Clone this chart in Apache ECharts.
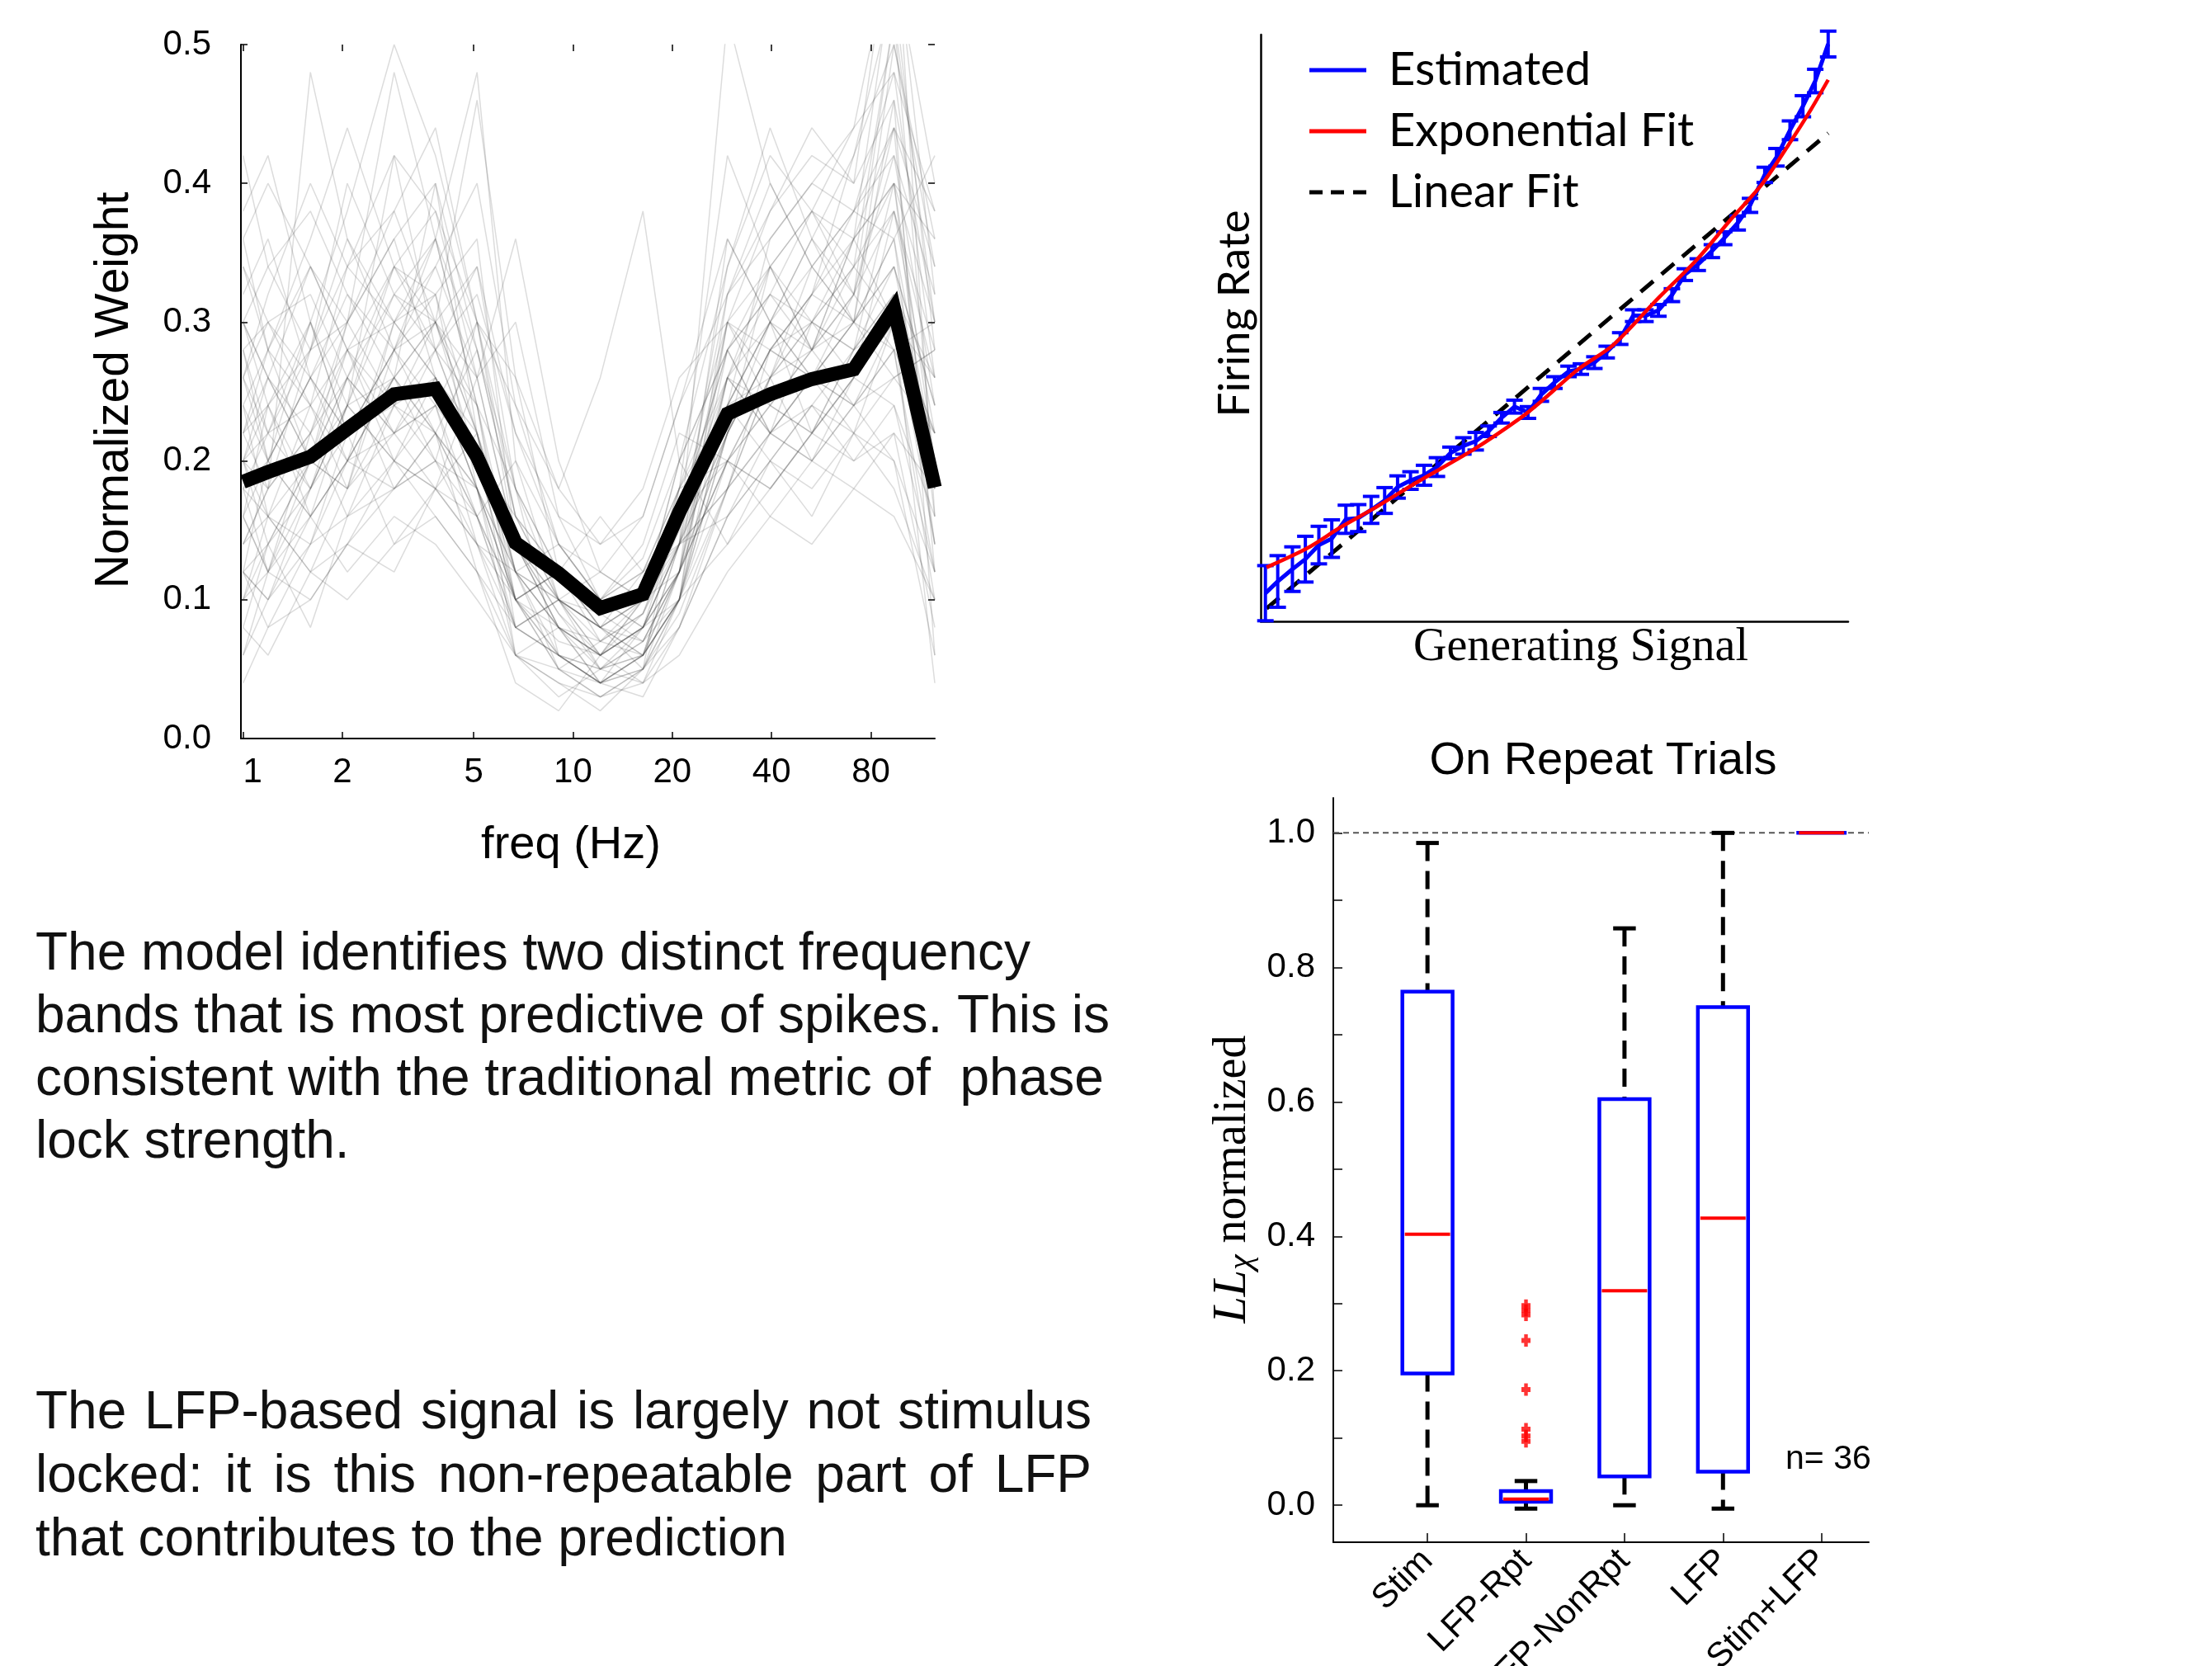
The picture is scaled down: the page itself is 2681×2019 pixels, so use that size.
<!DOCTYPE html>
<html>
<head>
<meta charset="utf-8">
<script src="https://cdn.jsdelivr.net/npm/echarts@6.0.0/dist/echarts.min.js"></script>
<style>
  html, body { margin: 0; padding: 0; background: #fff; }
  #chart { width: 2681px; height: 2019px; }
</style>
</head>
<body>
<div id="chart"></div>
<script>
// ---- panel A: frequency weights ----
var freqHz = [1.0, 1.19, 1.6, 2.07, 2.87, 3.83, 5.12, 6.7, 9.05, 12.1, 16.3, 21.0, 29.4, 39.6, 53, 71, 94, 125]
var meanWeight = [0.185, 0.192, 0.203, 0.223, 0.248, 0.252, 0.203, 0.141, 0.119, 0.094, 0.104, 0.163, 0.234, 0.248, 0.259, 0.266, 0.310, 0.181]
var unitWeights = [
  [0.28, 0.22, 0.30, 0.38, 0.50, 0.42, 0.30, 0.14, 0.10, 0.06, 0.08, 0.12, 0.30, 0.34, 0.28, 0.32, 0.52, 0.30],
  [0.12, 0.10, 0.18, 0.24, 0.20, 0.26, 0.18, 0.08, 0.06, 0.04, 0.06, 0.14, 0.22, 0.28, 0.30, 0.36, 0.44, 0.12],
  [0.20, 0.26, 0.34, 0.28, 0.24, 0.30, 0.46, 0.26, 0.12, 0.08, 0.10, 0.20, 0.28, 0.22, 0.26, 0.24, 0.30, 0.20],
  [0.38, 0.42, 0.30, 0.22, 0.26, 0.20, 0.16, 0.10, 0.12, 0.09, 0.07, 0.10, 0.18, 0.26, 0.30, 0.28, 0.40, 0.36],
  [0.16, 0.12, 0.22, 0.30, 0.36, 0.40, 0.22, 0.12, 0.05, 0.03, 0.05, 0.18, 0.42, 0.34, 0.38, 0.32, 0.28, 0.22],
  [0.24, 0.20, 0.16, 0.20, 0.30, 0.34, 0.26, 0.36, 0.20, 0.12, 0.10, 0.16, 0.24, 0.20, 0.16, 0.22, 0.18, 0.10],
  [0.10, 0.14, 0.08, 0.16, 0.24, 0.22, 0.12, 0.04, 0.02, 0.06, 0.04, 0.10, 0.30, 0.38, 0.44, 0.40, 0.60, 0.16],
  [0.30, 0.26, 0.22, 0.26, 0.18, 0.22, 0.28, 0.16, 0.12, 0.10, 0.12, 0.14, 0.16, 0.20, 0.24, 0.22, 0.26, 0.28],
  [0.20, 0.18, 0.48, 0.36, 0.28, 0.24, 0.16, 0.08, 0.10, 0.05, 0.08, 0.12, 0.36, 0.30, 0.26, 0.30, 0.34, 0.24],
  [0.14, 0.16, 0.20, 0.18, 0.30, 0.26, 0.20, 0.14, 0.08, 0.06, 0.09, 0.16, 0.20, 0.26, 0.34, 0.30, 0.46, 0.06],
  [0.26, 0.30, 0.24, 0.28, 0.34, 0.32, 0.18, 0.06, 0.04, 0.02, 0.05, 0.12, 0.26, 0.30, 0.22, 0.28, 0.32, 0.26],
  [0.08, 0.06, 0.12, 0.14, 0.18, 0.20, 0.30, 0.24, 0.18, 0.26, 0.38, 0.20, 0.14, 0.18, 0.22, 0.26, 0.24, 0.12],
  [0.22, 0.24, 0.28, 0.40, 0.32, 0.36, 0.48, 0.20, 0.10, 0.08, 0.06, 0.14, 0.52, 0.40, 0.34, 0.38, 0.36, 0.42],
  [0.18, 0.20, 0.16, 0.12, 0.16, 0.14, 0.10, 0.06, 0.08, 0.04, 0.06, 0.10, 0.22, 0.34, 0.28, 0.36, 0.40, 0.20],
  [0.32, 0.36, 0.26, 0.22, 0.28, 0.30, 0.24, 0.12, 0.14, 0.10, 0.08, 0.10, 0.20, 0.24, 0.28, 0.34, 0.30, 0.14],
  [0.12, 0.08, 0.14, 0.20, 0.26, 0.30, 0.34, 0.18, 0.06, 0.04, 0.03, 0.08, 0.16, 0.22, 0.26, 0.32, 0.44, 0.38],
  [0.28, 0.30, 0.32, 0.26, 0.22, 0.18, 0.14, 0.08, 0.10, 0.12, 0.10, 0.18, 0.30, 0.26, 0.20, 0.18, 0.22, 0.08],
  [0.06, 0.10, 0.14, 0.22, 0.28, 0.36, 0.24, 0.10, 0.08, 0.06, 0.10, 0.20, 0.28, 0.32, 0.38, 0.34, 0.52, 0.18],
  [0.20, 0.14, 0.18, 0.24, 0.42, 0.28, 0.20, 0.16, 0.12, 0.08, 0.12, 0.16, 0.24, 0.30, 0.26, 0.24, 0.28, 0.30],
  [0.16, 0.20, 0.26, 0.30, 0.24, 0.26, 0.18, 0.10, 0.05, 0.07, 0.06, 0.12, 0.26, 0.22, 0.30, 0.28, 0.34, 0.24],
  [0.36, 0.28, 0.20, 0.18, 0.22, 0.24, 0.14, 0.06, 0.03, 0.05, 0.04, 0.08, 0.18, 0.28, 0.32, 0.42, 0.50, 0.34],
  [0.14, 0.18, 0.22, 0.16, 0.20, 0.18, 0.26, 0.30, 0.16, 0.10, 0.14, 0.22, 0.20, 0.16, 0.14, 0.18, 0.16, 0.10],
  [0.24, 0.16, 0.12, 0.18, 0.28, 0.32, 0.36, 0.14, 0.08, 0.04, 0.08, 0.14, 0.34, 0.44, 0.36, 0.30, 0.26, 0.28],
  [0.10, 0.12, 0.20, 0.28, 0.20, 0.16, 0.12, 0.08, 0.10, 0.08, 0.05, 0.10, 0.14, 0.20, 0.18, 0.22, 0.30, 0.04],
  [0.42, 0.34, 0.28, 0.30, 0.36, 0.26, 0.22, 0.12, 0.08, 0.06, 0.10, 0.16, 0.28, 0.22, 0.24, 0.20, 0.22, 0.18],
  [0.18, 0.22, 0.24, 0.34, 0.38, 0.30, 0.20, 0.10, 0.12, 0.16, 0.12, 0.18, 0.24, 0.26, 0.30, 0.26, 0.38, 0.22],
  [0.26, 0.20, 0.30, 0.22, 0.14, 0.18, 0.16, 0.20, 0.14, 0.12, 0.16, 0.24, 0.32, 0.36, 0.40, 0.44, 0.48, 0.26],
  [0.04, 0.08, 0.10, 0.14, 0.12, 0.18, 0.22, 0.06, 0.04, 0.03, 0.04, 0.06, 0.12, 0.16, 0.20, 0.24, 0.20, 0.06],
  [0.20, 0.24, 0.16, 0.24, 0.26, 0.40, 0.28, 0.18, 0.10, 0.06, 0.08, 0.14, 0.18, 0.26, 0.28, 0.30, 0.36, 0.20],
  [0.30, 0.34, 0.38, 0.32, 0.28, 0.22, 0.18, 0.12, 0.06, 0.04, 0.06, 0.10, 0.24, 0.30, 0.34, 0.38, 0.42, 0.32],
  [0.12, 0.10, 0.16, 0.20, 0.22, 0.28, 0.32, 0.22, 0.16, 0.14, 0.18, 0.26, 0.30, 0.24, 0.22, 0.26, 0.32, 0.14],
  [0.22, 0.28, 0.34, 0.30, 0.48, 0.36, 0.24, 0.08, 0.06, 0.05, 0.07, 0.12, 0.20, 0.18, 0.22, 0.28, 0.30, 0.22],
  [0.16, 0.12, 0.10, 0.14, 0.20, 0.24, 0.20, 0.12, 0.10, 0.08, 0.06, 0.10, 0.26, 0.34, 0.38, 0.36, 0.56, 0.40],
  [0.34, 0.30, 0.26, 0.20, 0.18, 0.20, 0.14, 0.10, 0.12, 0.07, 0.09, 0.14, 0.22, 0.28, 0.26, 0.22, 0.20, 0.12],
  [0.08, 0.14, 0.20, 0.26, 0.32, 0.30, 0.22, 0.14, 0.08, 0.05, 0.07, 0.12, 0.28, 0.32, 0.30, 0.34, 0.40, 0.16],
  [0.26, 0.32, 0.40, 0.34, 0.30, 0.36, 0.28, 0.16, 0.10, 0.07, 0.09, 0.15, 0.32, 0.38, 0.42, 0.40, 0.46, 0.30],
  [0.18, 0.16, 0.12, 0.10, 0.14, 0.16, 0.12, 0.06, 0.05, 0.04, 0.05, 0.09, 0.18, 0.22, 0.20, 0.24, 0.28, 0.12],
  [0.22, 0.26, 0.20, 0.30, 0.38, 0.44, 0.30, 0.18, 0.12, 0.08, 0.10, 0.14, 0.30, 0.28, 0.32, 0.36, 0.30, 0.26],
  [0.14, 0.18, 0.28, 0.36, 0.30, 0.26, 0.18, 0.10, 0.07, 0.06, 0.08, 0.12, 0.22, 0.30, 0.36, 0.42, 0.54, 0.28],
  [0.30, 0.24, 0.18, 0.24, 0.32, 0.28, 0.34, 0.22, 0.14, 0.10, 0.12, 0.18, 0.20, 0.24, 0.22, 0.20, 0.24, 0.16],
  [0.10, 0.16, 0.24, 0.20, 0.26, 0.30, 0.26, 0.14, 0.09, 0.05, 0.06, 0.10, 0.24, 0.36, 0.40, 0.38, 0.44, 0.34],
  [0.24, 0.28, 0.36, 0.44, 0.34, 0.28, 0.20, 0.10, 0.06, 0.04, 0.05, 0.08, 0.16, 0.20, 0.24, 0.28, 0.32, 0.18],
  [0.20, 0.22, 0.18, 0.26, 0.22, 0.24, 0.30, 0.26, 0.18, 0.14, 0.16, 0.24, 0.36, 0.30, 0.28, 0.24, 0.26, 0.22],
  [0.34, 0.28, 0.24, 0.18, 0.24, 0.20, 0.18, 0.12, 0.08, 0.06, 0.08, 0.16, 0.28, 0.34, 0.30, 0.34, 0.38, 0.26],
  [0.12, 0.14, 0.20, 0.24, 0.34, 0.38, 0.30, 0.16, 0.10, 0.08, 0.07, 0.12, 0.20, 0.26, 0.32, 0.30, 0.36, 0.14],
  [0.28, 0.20, 0.26, 0.32, 0.26, 0.22, 0.16, 0.08, 0.06, 0.05, 0.06, 0.10, 0.32, 0.40, 0.34, 0.30, 0.50, 0.36],
  [0.16, 0.24, 0.30, 0.24, 0.20, 0.18, 0.14, 0.12, 0.10, 0.09, 0.11, 0.14, 0.18, 0.22, 0.26, 0.30, 0.28, 0.10],
  [0.22, 0.18, 0.22, 0.28, 0.30, 0.32, 0.22, 0.12, 0.08, 0.07, 0.10, 0.18, 0.26, 0.24, 0.28, 0.32, 0.42, 0.24],
  [0.06, 0.12, 0.16, 0.20, 0.26, 0.22, 0.18, 0.10, 0.06, 0.04, 0.06, 0.12, 0.22, 0.28, 0.26, 0.30, 0.34, 0.20],
  [0.36, 0.40, 0.34, 0.28, 0.22, 0.26, 0.20, 0.14, 0.10, 0.08, 0.10, 0.12, 0.20, 0.18, 0.22, 0.26, 0.30, 0.22],
  [0.18, 0.12, 0.18, 0.22, 0.28, 0.34, 0.40, 0.24, 0.14, 0.10, 0.08, 0.14, 0.26, 0.32, 0.28, 0.36, 0.40, 0.30],
  [0.26, 0.22, 0.28, 0.34, 0.42, 0.38, 0.26, 0.14, 0.09, 0.06, 0.08, 0.14, 0.24, 0.30, 0.36, 0.32, 0.38, 0.28],
  [0.20, 0.16, 0.14, 0.16, 0.18, 0.22, 0.16, 0.10, 0.12, 0.10, 0.13, 0.20, 0.34, 0.42, 0.38, 0.44, 0.58, 0.32],
  [0.12, 0.20, 0.26, 0.22, 0.24, 0.28, 0.24, 0.18, 0.12, 0.09, 0.10, 0.16, 0.26, 0.22, 0.20, 0.26, 0.30, 0.18],
  [0.30, 0.26, 0.20, 0.26, 0.34, 0.30, 0.22, 0.10, 0.05, 0.03, 0.05, 0.10, 0.22, 0.28, 0.32, 0.38, 0.48, 0.38]
]
var freqTicks = [1, 2, 5, 10, 20, 40, 80]

// ---- panel B: firing rate vs generating signal ----
var signalX = [0.8, 2.9, 5.4, 7.6, 9.9, 12.1, 14.5, 16.6, 18.8, 21.1, 23.3, 25.5, 27.8, 30.0, 32.3, 34.5, 36.6, 38.8, 41.0, 43.2, 45.5, 47.7,
  50.0, 52.4, 54.5, 56.8, 58.9, 61.2, 63.4, 65.5, 67.7, 70.0, 72.2, 74.4, 76.8, 78.9, 81.2, 83.3, 85.8, 87.8, 90.1, 92.3, 94.4, 96.6]
var rateEst = [4.8, 6.8, 8.9, 10.6, 13.0, 14.1, 17.4, 17.6, 19.0, 20.6, 22.9, 24.0, 24.9, 26.3, 28.7, 29.9, 30.7, 32.4, 34.7, 36.6, 35.6, 38.6,
  40.7, 42.6, 43.0, 44.1, 45.9, 48.2, 52.1, 52.1, 53.0, 55.6, 59.1, 60.8, 63.1, 65.3, 67.9, 70.9, 76.1, 79.1, 83.7, 87.8, 92.1, 98.4]
var rateErr = [4.7, 4.4, 3.8, 3.9, 3.2, 3.2, 2.4, 2.3, 2.3, 2.2, 1.9, 1.5, 1.7, 1.6, 1.0, 1.4, 1.5, 0.9, 0.9, 1.1, 1.0, 1.1,
  1.0, 0.9, 0.9, 1.0, 1.0, 1.0, 1.0, 1.0, 1.0, 1.1, 1.0, 1.0, 1.1, 1.1, 1.2, 1.2, 1.3, 1.5, 1.6, 1.8, 2.0, 2.2]
var expFitX = [1.0, 7.8, 13.7, 19.7, 26.4, 36.1, 44.4, 48.1, 54.1, 60.0, 67.5, 74.2, 80.2, 85.4, 89.9, 93.7, 96.6]
var expFitY = [9.2, 12.4, 16.1, 19.5, 23.6, 29.2, 34.8, 37.8, 43.0, 47.1, 54.9, 61.6, 68.7, 74.6, 81.3, 87.3, 92.3]
var linFitX = [1.0, 96.6]
var linFitY = [2.2, 83.2]

// ---- panel C: box plot ----
var boxNames = ['Stim', 'LFP-Rpt', 'LFP-NonRpt', 'LFP', 'Stim+LFP']
var boxMin = [0.0, -0.005, 0.0, -0.005, 1.0]
var boxQ1 = [0.196, 0.005, 0.043, 0.050, 1.0]
var boxMed = [0.403, 0.009, 0.319, 0.427, 1.0]
var boxQ3 = [0.764, 0.021, 0.604, 0.741, 1.0]
var boxMax = [0.985, 0.036, 0.858, 1.0, 1.0]
var outlierValues = [0.297, 0.290, 0.283, 0.245, 0.172, 0.113, 0.103, 0.095]
var llTicks = [0, 0.1, 0.2, 0.3, 0.4, 0.5, 0.6, 0.7, 0.8, 0.9, 1.0]
var llLabels = [0, 0.2, 0.4, 0.6, 0.8, 1.0]

var para1 = [
  'The model identifies two distinct frequency',
  'bands that is most predictive of spikes. This is',
  'consistent with the traditional metric of  phase',
  'lock strength.'
]
var para2 = [
  'The LFP-based signal is largely not stimulus',
  'locked: it is this non-repeatable part of LFP',
  'that contributes to the prediction'
]

var SANS = '"Liberation Sans", Arial, Helvetica, sans-serif'
var SERIF = '"Liberation Serif", "Times New Roman", serif'
var MYRIAD = 'Lato, "Noto Sans", sans-serif'

var chart = echarts.init(document.getElementById('chart'))

var measure = document.createElement('canvas').getContext('2d')
measure.font = '64px ' + SANS

function textLines(lines, x, y0, step, justifyTo) {
  var out = []
  lines.forEach(function (str, k) {
    var y = y0 + k * step
    if (justifyTo && k < lines.length - 1) {
      var words = str.split(' ')
      var widths = words.map(function (w) { return measure.measureText(w).width })
      var sum = widths.reduce(function (a, b) { return a + b }, 0)
      var gap = (justifyTo - x - sum) / (words.length - 1)
      var cx = x
      words.forEach(function (w, i) {
        out.push({ type: 'text', x: cx, y: y, style: { text: w, font: '64px ' + SANS, fill: '#111', textAlign: 'left', textVerticalAlign: 'middle' } })
        cx += widths[i] + gap
      })
    } else {
      out.push({ type: 'text', x: x, y: y, style: { text: str, font: '64px ' + SANS, fill: '#111', textAlign: 'left', textVerticalAlign: 'middle' } })
    }
  })
  return out
}

var series = []
unitWeights.forEach(function (row) {
  series.push({
    type: 'line', xAxisIndex: 0, yAxisIndex: 0, silent: true, symbol: 'none', z: 1,
    data: row.map(function (v, i) { return [Math.log10(freqHz[i]), v] }),
    lineStyle: { color: 'rgba(60,60,60,0.18)', width: 1.5 }
  })
})
series.push({
  type: 'line', xAxisIndex: 0, yAxisIndex: 0, silent: true, symbol: 'none', z: 3,
  data: meanWeight.map(function (v, i) { return [Math.log10(freqHz[i]), v] }),
  lineStyle: { color: '#000', width: 17, join: 'miter' }
})

series.push({
  name: 'Linear Fit', type: 'line', xAxisIndex: 2, yAxisIndex: 2, symbol: 'none', z: 2,
  data: linFitX.map(function (x, i) { return [x, linFitY[i]] }),
  lineStyle: { color: '#000', width: 5, type: [20, 13] }, itemStyle: { color: '#000' }
})
series.push({
  name: 'Estimated', type: 'line', xAxisIndex: 2, yAxisIndex: 2, symbol: 'none', z: 3,
  data: signalX.map(function (x, i) { return [x, rateEst[i]] }),
  lineStyle: { color: '#0000ff', width: 5 }, itemStyle: { color: '#0000ff' }
})
series.push({
  name: 'errbars', type: 'custom', xAxisIndex: 2, yAxisIndex: 2, z: 3,
  data: signalX.map(function (x, i) { return [x, rateEst[i], rateErr[i]] }),
  encode: { x: 0, y: 1 },
  renderItem: function (params, api) {
    var x = api.value(0), y = api.value(1), e = api.value(2)
    var top = api.coord([x, y + e]), bot = api.coord([x, y - e])
    var st = { stroke: '#0000ff', lineWidth: 4 }
    return {
      type: 'group', children: [
        { type: 'line', shape: { x1: top[0], y1: top[1], x2: bot[0], y2: bot[1] }, style: st },
        { type: 'line', shape: { x1: top[0] - 10, y1: top[1], x2: top[0] + 10, y2: top[1] }, style: st },
        { type: 'line', shape: { x1: bot[0] - 10, y1: bot[1], x2: bot[0] + 10, y2: bot[1] }, style: st }
      ]
    }
  }
})
series.push({
  name: 'Exponential Fit', type: 'line', xAxisIndex: 2, yAxisIndex: 2, symbol: 'none', smooth: 0.3, z: 4,
  data: expFitX.map(function (x, i) { return [x, expFitY[i]] }),
  lineStyle: { color: '#ff0000', width: 4.5 }, itemStyle: { color: '#ff0000' }
})

var boxXMin = 0.044, boxXMax = 5.48
series.push({
  type: 'line', xAxisIndex: 3, yAxisIndex: 3, symbol: 'none', silent: true, z: 1,
  data: [[boxXMin, 1], [boxXMax, 1]],
  lineStyle: { color: '#555', width: 2, type: [7, 5] }
})
series.push({
  type: 'custom', xAxisIndex: 3, yAxisIndex: 3, z: 3,
  data: boxNames.map(function (n, i) { return [i + 1, boxMin[i], boxQ1[i], boxMed[i], boxQ3[i], boxMax[i]] }),
  encode: { x: 0, y: [1, 2, 3, 4, 5] },
  renderItem: function (params, api) {
    var x = api.value(0)
    var pMin = api.coord([x, api.value(1)]), pQ1 = api.coord([x, api.value(2)])
    var pMed = api.coord([x, api.value(3)]), pQ3 = api.coord([x, api.value(4)]), pMax = api.coord([x, api.value(5)])
    var half = api.size([0.51, 0])[0] / 2
    var cap = api.size([0.23, 0])[0] / 2
    var cx = pMin[0]
    var dash = { stroke: '#000', lineWidth: 5, lineDash: [22, 12] }
    var solid = { stroke: '#000', lineWidth: 5 }
    var kids = []
    if (pMax[1] < pQ3[1]) {
      kids.push({ type: 'line', shape: { x1: cx, y1: pMax[1], x2: cx, y2: pQ3[1] }, style: dash })
      kids.push({ type: 'line', shape: { x1: cx - cap, y1: pMax[1], x2: cx + cap, y2: pMax[1] }, style: solid })
    }
    if (pMin[1] > pQ1[1]) {
      kids.push({ type: 'line', shape: { x1: cx, y1: pQ1[1], x2: cx, y2: pMin[1] }, style: dash })
      kids.push({ type: 'line', shape: { x1: cx - cap, y1: pMin[1], x2: cx + cap, y2: pMin[1] }, style: solid })
    }
    kids.push({ type: 'rect', shape: { x: cx - half, y: pQ3[1], width: half * 2, height: pQ1[1] - pQ3[1] }, style: { fill: 'none', stroke: '#0000ff', lineWidth: 4.5 } })
    kids.push({ type: 'line', shape: { x1: cx - half + 3, y1: pMed[1], x2: cx + half - 3, y2: pMed[1] }, style: { stroke: '#ff0000', lineWidth: 4 } })
    return { type: 'group', children: kids }
  }
})
series.push({
  type: 'scatter', xAxisIndex: 3, yAxisIndex: 3, z: 4, silent: true,
  data: outlierValues.map(function (v) { return [2, v] }),
  symbol: 'path://M3,0H7V3H10V7H7V10H3V7H0V3H3Z', symbolSize: [11, 15],
  itemStyle: { color: '#ff0000' }
})

var axisLine = { onZero: false, lineStyle: { color: '#000', width: 2 } }
var tickFont = { color: '#000', fontFamily: SANS, fontSize: 42 }

var option = {
  animation: false,
  backgroundColor: '#fff',
  grid: [
    { left: 292, top: 54, width: 841, height: 841, outerBoundsMode: 'none', containLabel: false },
    { left: 1528, top: 42, width: 712, height: 711, outerBoundsMode: 'none', containLabel: false },
    { left: 1616, top: 967, width: 649, height: 902, outerBoundsMode: 'none', containLabel: false }
  ],
  legend: {
    data: [
      { name: 'Estimated', icon: 'path://M0,0H69V5H0Z' },
      { name: 'Exponential Fit', icon: 'path://M0,0H69V5H0Z' },
      { name: 'Linear Fit', icon: 'path://M0,0H16V5H0Z M26,0H42V5H26Z M53,0H69V5H53Z' }
    ],
    orient: 'vertical', left: 1582, top: 50,
    itemWidth: 69, itemHeight: 5, itemGap: 14,
    textStyle: { fontFamily: MYRIAD, fontSize: 56, lineHeight: 60, color: '#000', padding: [0, 0, 0, 22] }
  },
  xAxis: [
    {
      gridIndex: 0, type: 'value', min: Math.log10(0.985), max: Math.log10(125),
      axisLine: axisLine, splitLine: { show: false },
      axisTick: { inside: true, length: 8, customValues: freqTicks.map(Math.log10), lineStyle: { color: '#000', width: 1.5 } },
      axisLabel: Object.assign({ margin: 20, alignMinLabel: 'left', customValues: freqTicks.map(Math.log10),
        formatter: function (v) { return String(Math.round(Math.pow(10, v))) } }, tickFont)
    },
    {
      gridIndex: 0, type: 'value', position: 'top', min: Math.log10(0.985), max: Math.log10(125),
      axisLine: { show: false, onZero: false }, splitLine: { show: false }, axisLabel: { show: false },
      axisTick: { inside: true, length: 8, customValues: freqTicks.map(Math.log10), lineStyle: { color: '#000', width: 1.5 } }
    },
    {
      gridIndex: 1, type: 'value', min: 0, max: 100,
      axisLine: { onZero: false, lineStyle: { color: '#000', width: 2.5 } }, splitLine: { show: false },
      axisTick: { show: false }, axisLabel: { show: false }
    },
    {
      gridIndex: 2, type: 'value', min: boxXMin, max: boxXMax,
      axisLine: axisLine, splitLine: { show: false },
      axisTick: { inside: true, length: 11, customValues: [1, 2, 3, 4, 5], lineStyle: { color: '#000', width: 1.5 } },
      axisLabel: Object.assign({ margin: 16, rotate: 45, customValues: [1, 2, 3, 4, 5],
        formatter: function (v) { return boxNames[Math.round(v) - 1] } }, tickFont)
    }
  ],
  yAxis: [
    {
      gridIndex: 0, type: 'value', min: 0, max: 0.5, interval: 0.1,
      axisLine: axisLine, splitLine: { show: false },
      axisTick: { inside: true, length: 8, lineStyle: { color: '#000', width: 1.5 } },
      axisLabel: Object.assign({ margin: 36, formatter: function (v) { return v.toFixed(1) } }, tickFont)
    },
    {
      gridIndex: 0, type: 'value', position: 'right', min: 0, max: 0.5, interval: 0.1,
      axisLine: { show: false, onZero: false }, splitLine: { show: false }, axisLabel: { show: false },
      axisTick: { inside: true, length: 8, lineStyle: { color: '#000', width: 1.5 } }
    },
    {
      gridIndex: 1, type: 'value', min: 0, max: 100,
      axisLine: { onZero: false, lineStyle: { color: '#000', width: 2.5 } }, splitLine: { show: false },
      axisTick: { show: false }, axisLabel: { show: false }
    },
    {
      gridIndex: 2, type: 'value', min: -0.055, max: 1.052,
      axisLine: axisLine, splitLine: { show: false },
      axisTick: { inside: true, length: 11, customValues: llTicks, lineStyle: { color: '#000', width: 1.5 } },
      axisLabel: Object.assign({ margin: 22, customValues: llLabels, formatter: function (v) { return v.toFixed(1) } }, tickFont)
    }
  ],
  graphic: [
    { type: 'text', x: 139, y: 473, rotation: Math.PI / 2, style: { text: 'Normalized Weight', font: '57px ' + SANS, fill: '#000', textAlign: 'center', textVerticalAlign: 'middle' } },
    { type: 'text', x: 692, y: 1025, style: { text: 'freq (Hz)', font: '56px ' + SANS, fill: '#000', textAlign: 'center', textVerticalAlign: 'middle' } },
    { type: 'text', x: 1497, y: 380, rotation: Math.PI / 2, style: { text: 'Firing Rate', font: '53px ' + MYRIAD, fill: '#000', textAlign: 'center', textVerticalAlign: 'middle' } },
    { type: 'text', x: 1916, y: 785, style: { text: 'Generating Signal', font: '56px ' + SERIF, fill: '#000', textAlign: 'center', textVerticalAlign: 'middle' } },
    { type: 'text', x: 1943, y: 923, style: { text: 'On Repeat Trials', font: '56px ' + SANS, fill: '#000', textAlign: 'center', textVerticalAlign: 'middle' } },
    { type: 'text', x: 1494, y: 1429, rotation: Math.PI / 2, style: {
      text: '{a|LL}{b|χ}{c| normalized}', textAlign: 'center', textVerticalAlign: 'middle',
      rich: {
        a: { fontFamily: SERIF, fontStyle: 'italic', fontSize: 58, lineHeight: 64, verticalAlign: 'middle', fill: '#000' },
        b: { fontFamily: SERIF, fontStyle: 'italic', fontSize: 42, lineHeight: 64, verticalAlign: 'bottom', fill: '#000' },
        c: { fontFamily: SERIF, fontSize: 56, lineHeight: 64, verticalAlign: 'middle', fill: '#000' }
      }
    } },
    { type: 'text', x: 2164, y: 1769, style: { text: 'n= 36', font: '41px ' + SANS, fill: '#000', textAlign: 'left', textVerticalAlign: 'middle' } }
  ].concat(textLines(para1, 43, 1157, 76, null)).concat(textLines(para2, 43, 1713, 77, 1323)),
  series: series
}

chart.setOption(option)
</script>
</body>
</html>
